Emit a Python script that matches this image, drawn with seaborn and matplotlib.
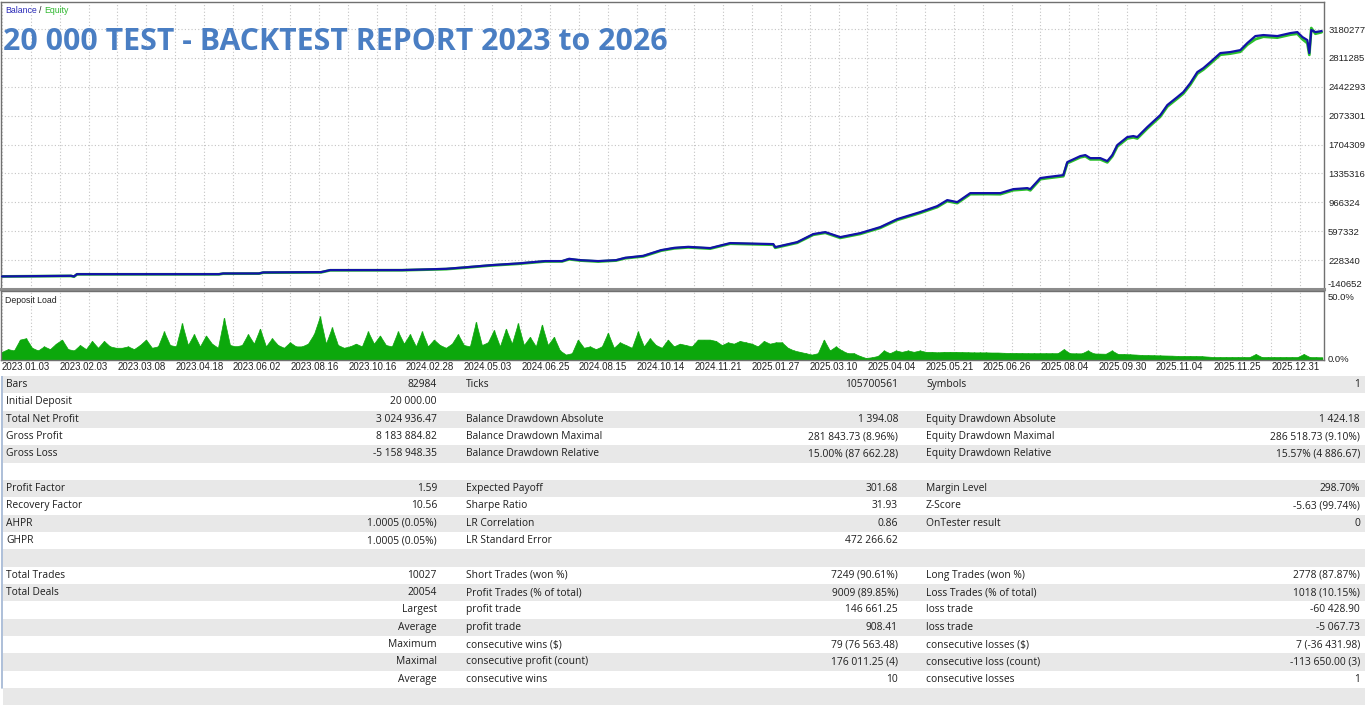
import numpy as np
import pandas as pd
import matplotlib
matplotlib.use("Agg")
import matplotlib.pyplot as plt
from matplotlib.patches import Rectangle
import seaborn as sns

# ---------------- data ----------------
total_trades = 10027

trade_no = [0, 524, 547, 570, 1649, 1680, 1953, 1984, 2424, 2493, 3040, 3374, 3511, 3716,
            3922, 4127, 4256, 4309, 4393, 4530, 4666, 4735, 4872, 5008, 5107, 5214, 5381,
            5533, 5860, 5875, 6042, 6164, 6255, 6369, 6521, 6673, 6802, 6977, 7106, 7182,
            7258, 7357, 7486, 7585, 7684, 7790, 7813, 7889, 7942, 8064, 8094, 8193, 8231,
            8269, 8345, 8398, 8436, 8474, 8550, 8596, 8626, 8702, 8801, 8854, 8930, 8976,
            9029, 9082, 9128, 9181, 9257, 9333, 9409, 9462, 9523, 9584, 9690, 9789, 9842,
            9881, 9918, 9933, 9948, 9979, 10027]

balance = [20000, 28000, 20000, 49000, 49000, 58000, 58000, 71000, 75000, 101000, 101000,
           117000, 135000, 164000, 186000, 216000, 216000, 245000, 228000, 216000, 228000,
           258000, 283000, 356000, 385000, 398000, 382000, 446000, 433000, 394000, 458000,
           561000, 586000, 522000, 573000, 650000, 752000, 842000, 918000, 995000, 969000,
           1084000, 1084000, 1084000, 1135000, 1148000, 1135000, 1276000, 1289000, 1314000,
           1480000, 1557000, 1570000, 1531000, 1531000, 1493000, 1570000, 1698000, 1800000,
           1813000, 1800000, 1928000, 2081000, 2209000, 2311000, 2375000, 2490000, 2630000,
           2681000, 2758000, 2873000, 2886000, 2911000, 3001000, 3090000, 3103000, 3090000,
           3128000, 3141000, 3077000, 3039000, 2873000, 3167000, 3141000, 3154000]

equity = [20000, 26000, 17000, 47000, 47000, 55000, 56000, 68000, 72000, 98000, 99000,
          113000, 131000, 160000, 181000, 211000, 212000, 239000, 223000, 210000, 223000,
          252000, 276000, 349000, 378000, 391000, 375000, 438000, 425000, 386000, 450000,
          552000, 577000, 512000, 563000, 640000, 741000, 831000, 906000, 982000, 956000,
          1071000, 1072000, 1070000, 1121000, 1134000, 1120000, 1262000, 1275000, 1300000,
          1466000, 1542000, 1555000, 1515000, 1515000, 1477000, 1554000, 1680000, 1782000,
          1796000, 1782000, 1910000, 2062000, 2190000, 2292000, 2356000, 2470000, 2610000,
          2662000, 2738000, 2852000, 2866000, 2890000, 2980000, 3050000, 3082000, 3070000,
          3108000, 3120000, 3050000, 3000000, 2850000, 3193000, 3120000, 3140000]

deposit_load = [6, 8, 7, 15, 16, 9, 7, 10, 8, 12,
                15, 8, 7, 11, 8, 14, 9, 14, 10, 9,
                9, 10, 8, 11, 15, 9, 10, 21, 11, 10,
                27, 11, 19, 10, 18, 12, 9, 31, 11, 10,
                11, 19, 12, 23, 10, 16, 11, 9, 13, 10,
                10, 12, 19, 32, 12, 24, 11, 9, 10, 12,
                10, 21, 12, 18, 11, 10, 21, 12, 19, 10,
                21, 10, 15, 11, 9, 12, 19, 11, 10, 28,
                11, 13, 22, 10, 23, 12, 27, 11, 17, 10,
                26, 11, 17, 7, 4, 5, 15, 9, 10, 8,
                10, 20, 9, 13, 11, 9, 21, 10, 16, 11,
                9, 15, 10, 12, 11, 10, 15, 15, 15, 14,
                11, 13, 12, 14, 13, 12, 10, 14, 12, 13,
                13, 9, 7, 6, 5, 4, 5, 15, 7, 10,
                7, 5, 5, 3, 1.5, 2, 3, 7, 5, 7,
                6, 7, 6, 7, 6, 6, 5.6, 6, 6, 6,
                5.8, 5.7, 5.6, 5.6, 5.6, 5.5, 5.5, 5.3, 5.2, 5.2,
                5.1, 5.0, 5.0, 5.0, 5.0, 5.0, 5.0, 8.0, 5.0, 4.9,
                4.9, 7.0, 4.8, 4.7, 4.6, 7.0, 4.5, 4.4, 4.2, 4.0,
                3.7, 3.6, 3.5, 3.4, 3.3, 3.2, 3.0, 3.0, 3.0, 2.9,
                2.8, 2.5, 2.2, 2.2, 2.2, 2.2, 2.2, 2.2, 2.2, 4.4,
                2.2, 2.2, 2.2, 2.2, 2.2, 2.2, 2.2, 4.4, 2.2, 2.1,
                2.0]

date_labels = ["2023.01.03", "2023.02.03", "2023.03.08", "2023.04.18", "2023.06.02",
               "2023.08.16", "2023.10.16", "2024.02.28", "2024.05.03", "2024.06.25",
               "2024.08.15", "2024.10.14", "2024.11.21", "2025.01.27", "2025.03.10",
               "2025.04.04", "2025.05.21", "2025.06.26", "2025.08.04", "2025.09.30",
               "2025.11.04", "2025.11.25", "2025.12.31"]

y_ticks = [-140652, 228340, 597332, 966324, 1335316, 1704309, 2073301, 2442293, 2811285, 3180277]

left_labels = ["Bars", "Initial Deposit", "Total Net Profit", "Gross Profit", "Gross Loss", "",
               "Profit Factor", "Recovery Factor", "AHPR", "GHPR", "",
               "Total Trades", "Total Deals", "", "", "", "", "", "", ""]
left_values = ["82984", "20 000.00", "3 024 936.47", "8 183 884.82", "-5 158 948.35", "",
               "1.59", "10.56", "1.0005 (0.05%)", "1.0005 (0.05%)", "",
               "10027", "20054", "Largest", "Average", "Maximum", "Maximal", "Average", "", ""]
mid_labels = ["Ticks", "", "Balance Drawdown Absolute", "Balance Drawdown Maximal",
              "Balance Drawdown Relative", "", "Expected Payoff", "Sharpe Ratio",
              "LR Correlation", "LR Standard Error", "", "Short Trades (won %)",
              "Profit Trades (% of total)", "profit trade", "profit trade",
              "consecutive wins ($)", "consecutive profit (count)", "consecutive wins", "", ""]
mid_values = ["105700561", "", "1 394.08", "281 843.73 (8.96%)", "15.00% (87 662.28)", "",
              "301.68", "31.93", "0.86", "472 266.62", "", "7249 (90.61%)", "9009 (89.85%)",
              "146 661.25", "908.41", "79 (76 563.48)", "176 011.25 (4)", "10", "", ""]
right_labels = ["Symbols", "", "Equity Drawdown Absolute", "Equity Drawdown Maximal",
                "Equity Drawdown Relative", "", "Margin Level", "Z-Score", "OnTester result",
                "", "", "Long Trades (won %)", "Loss Trades (% of total)", "loss trade",
                "loss trade", "consecutive losses ($)", "consecutive loss (count)",
                "consecutive losses", "", ""]
right_values = ["1", "", "1 424.18", "286 518.73 (9.10%)", "15.57% (4 886.67)", "",
                "298.70%", "-5.63 (99.74%)", "0", "", "", "2778 (87.87%)", "1018 (10.15%)",
                "-60 428.90", "-5 067.73", "7 (-36 431.98)", "-113 650.00 (3)", "1", "", ""]

# ---------------- style ----------------
sns.set_theme(style="white")
plt.rcParams['font.family'] = ['Liberation Sans', 'DejaVu Sans']

W, H = 1365, 720
fig = plt.figure(figsize=(W / 100, H / 100), dpi=100)
fig.patch.set_facecolor("white")


def rect(l, t, r, b):
    return [l / W, 1 - b / H, (r - l) / W, (b - t) / H]


ax = fig.add_axes(rect(1, 2, 1324, 289))
ax2 = fig.add_axes(rect(1, 291, 1324, 360))
tab = fig.add_axes(rect(0, 376, W, H))

grid_step = total_trades / 45.75
x_lo, x_hi = -0.035 * grid_step, 45.83 * grid_step
grid_col = "#c4c4c4"
dot = (0, (1, 2))

# ---------------- main balance / equity ----------------
df = pd.DataFrame({"trade": trade_no, "Balance": balance, "Equity": equity})
for k in range(46):
    ax.axvline(k * grid_step, color=grid_col, lw=0.8, ls=dot, zorder=0)
    ax2.axvline(k * grid_step, color=grid_col, lw=0.8, ls=dot, zorder=0)
for v in y_ticks[1:]:
    ax.axhline(v, color=grid_col, lw=0.8, ls=dot, zorder=0)

sns.lineplot(data=df, x="trade", y="Equity", ax=ax, color="#2cc02c", lw=2.0,
             estimator=None, sort=False, legend=False, zorder=2)
sns.lineplot(data=df, x="trade", y="Balance", ax=ax, color="#1212a8", lw=1.6,
             estimator=None, sort=False, legend=False, zorder=3)

ax.set_xlim(x_lo, x_hi)
ax.set_ylim(y_ticks[0], 3525229)
ax.set_xlabel("")
ax.set_ylabel("")
ax.set_xticks([])
ax.yaxis.tick_right()
ax.set_yticks(y_ticks[1:])
ax.set_yticklabels([str(v) for v in y_ticks[1:]], fontsize=6.8, color="#222222")
ax.tick_params(axis="y", length=0, pad=3)
ax.text(1.0025, 0.0, str(y_ticks[0]), transform=ax.transAxes, fontsize=6.8,
        color="#222222", va="bottom", ha="left")
for s in ax.spines.values():
    s.set_color("#707070")
    s.set_linewidth(1.0)
ax.spines["bottom"].set_linewidth(2.2)
ax.spines["bottom"].set_color("#8c8c8c")

ax.text(0.003, 0.985, "Balance", transform=ax.transAxes, fontsize=6.3, color="#2a2ab8",
        va="top", ha="left")
ax.text(0.0285, 0.985, "/", transform=ax.transAxes, fontsize=6.3, color="#222222",
        va="top", ha="left")
ax.text(0.0325, 0.985, "Equity", transform=ax.transAxes, fontsize=6.3, color="#30b830",
        va="top", ha="left")
fig.text(3 / W, 1 - 50 / H, "20 000 TEST - BACKTEST REPORT 2023 to 2026",
         fontsize=21.8, fontweight="bold", color="#4a7ec3", family=["Open Sans", "DejaVu Sans"],
         ha="left", va="baseline")

# ---------------- deposit load ----------------
dl_x = np.linspace(0, total_trades, len(deposit_load))
ax2.fill_between(dl_x, 0, deposit_load, color="#0ca80c", lw=0.5, zorder=2)
ax2.vlines(dl_x, 0, deposit_load, color="#0ca80c", lw=1.0, zorder=2)
ax2.set_xlim(x_lo, x_hi)
ax2.set_ylim(0, 50.7)
ax2.set_yticks([])
ax2.set_xticks(np.arange(len(date_labels)) * 2 * grid_step)
ax2.set_xticklabels(date_labels, fontsize=7, ha="left", color="#222222")
ax2.tick_params(axis="x", length=0, pad=1.5)
for s in ax2.spines.values():
    s.set_color("#707070")
    s.set_linewidth(1.0)
ax2.text(0.003, 0.93, "Deposit Load", transform=ax2.transAxes, fontsize=6.3,
         color="#222222", va="top", ha="left")
ax2.text(1.0025, 0.97, "50.0%", transform=ax2.transAxes, fontsize=6.8, color="#222222",
         va="top", ha="left")
ax2.text(1.0025, 0.0, "0.0%", transform=ax2.transAxes, fontsize=6.8, color="#222222",
         va="center", ha="left")

# ---------------- statistics table ----------------
tab.set_xlim(0, W)
tab.set_ylim(H - 376, 0)
tab.axis("off")
row_h = 17.33
tfont = dict(fontsize=7.4, color="#1e1e1e", va="center", family=["Open Sans", "DejaVu Sans"])
for i in range(len(left_labels)):
    y0 = i * row_h
    if i % 2 == 0:
        tab.add_patch(Rectangle((3, y0), W - 3, row_h, color="#e8e8e8", lw=0, zorder=0))
    yc = y0 + row_h / 2
    tab.text(6, yc, left_labels[i], ha="left", **tfont)
    tab.text(437, yc, left_values[i], ha="right", **tfont)
    tab.text(466, yc, mid_labels[i], ha="left", **tfont)
    tab.text(898, yc, mid_values[i], ha="right", **tfont)
    tab.text(926, yc, right_labels[i], ha="left", **tfont)
    tab.text(1360, yc, right_values[i], ha="right", **tfont)
tab.plot([1.5, 1.5], [0, 18 * row_h], color="#9fb4d2", lw=1.2)

fig.savefig("out.png", dpi=100, facecolor="white")
